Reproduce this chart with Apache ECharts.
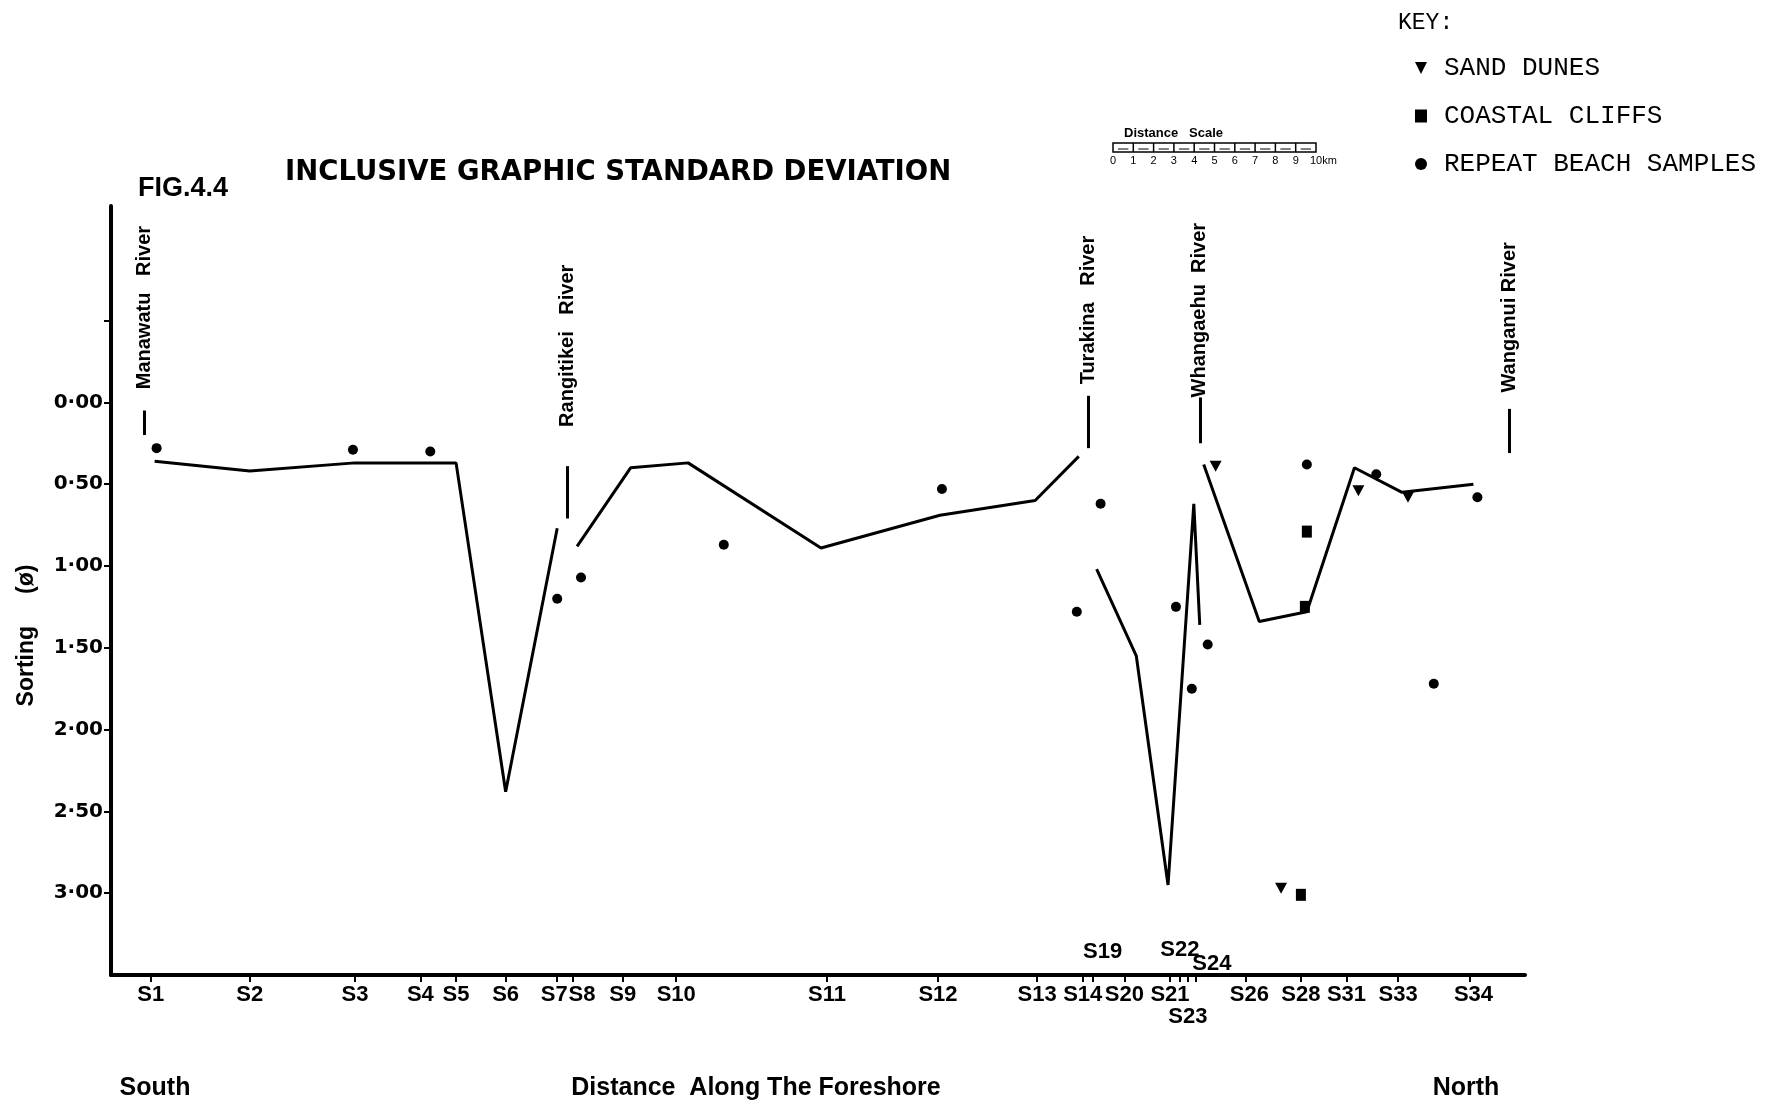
<!DOCTYPE html>
<html><head><meta charset="utf-8">
<script src="https://cdn.jsdelivr.net/npm/echarts@6/dist/echarts.min.js"></script>
<style>html,body{margin:0;padding:0;background:#fff}#c{width:1776px;height:1105px}</style>
</head><body><div id="c"></div>
<script>
// ---- data (x = distance along the foreshore, km from the south end; y = sorting in phi) ----
const stationNames = ['S1','S2','S3','S4','S5','S6','S7','S8','S9','S10','S11','S12','S13','S14','S19','S20','S21','S22','S23','S24','S26','S28','S31','S33','S34'];
const stationKm = [2.0,7.0,12.3,15.6,17.4,19.9,22.5,23.3,25.8,28.5,36.1,41.7,46.7,49.0,49.5,51.1,53.4,53.9,54.3,54.7,57.2,60.0,62.3,64.9,68.5];
const upperLabelStations = ['S19','S22','S24'];
const lowerRowStations = ['S23'];

// main profile line (null = break in the drawn line)
const profileKm      = [2.2, 7.0, 12.3, 15.6, 17.4, 19.9, 22.5, null, 23.5, 26.2, 29.1, 35.8, 41.8, 46.6, 48.8, null, 49.7, 51.7, 53.3, 54.6, 54.9, null, 55.1, 57.9, 60.3, 62.7, 65.1, 68.7];
const profileSorting = [0.36, 0.42, 0.37, 0.37, 0.37, 2.38, 0.77, null, 0.88, 0.40, 0.37, 0.89, 0.69, 0.60, 0.33, null, 1.02, 1.55, 2.95, 0.62, 1.36, null, 0.38, 1.34, 1.28, 0.40, 0.55, 0.50];

const beachKm      = [2.3, 12.2, 16.1, 22.5, 23.7, 30.9, 41.9, 48.7, 49.9, 53.7, 54.5, 55.3, 60.3, 63.8, 66.7, 68.9];
const beachSorting = [0.28, 0.29, 0.30, 1.20, 1.07, 0.87, 0.53, 1.28, 0.62, 1.25, 1.75, 1.48, 0.38, 0.44, 1.72, 0.58];

const duneKm      = [55.7, 62.9, 65.4, 59.0];
const duneSorting = [0.39, 0.54, 0.58, 2.97];

const cliffKm      = [60.3, 60.2, 60.0];
const cliffSorting = [0.79, 1.25, 3.01];

const riverNames      = ['Manawatu   River', 'Rangitikei   River', 'Turakina   River', 'Whangaehu  River', 'Wanganui River'];
const riverKm         = [1.7, 23.0, 49.3, 54.9, 70.5];
const riverMarkTop    = [0.05, 0.39, -0.04, -0.03, 0.04];
const riverMarkBottom = [0.20, 0.71, 0.28, 0.25, 0.31];
const riverLabelBase  = [-0.08, 0.15, -0.11, -0.03, -0.06];

const yTickValues  = [-0.5, 0, 0.5, 1.0, 1.5, 2.0, 2.5, 3.0];
const yLabelValues = [0, 0.5, 1.0, 1.5, 2.0, 2.5, 3.0];

// ---- build ----
const kmOf = n => stationKm[stationNames.indexOf(n)];
const bottomStations = stationNames.filter(n => upperLabelStations.indexOf(n) < 0);
const nameByKm = {};
stationNames.forEach((n, i) => { nameByKm[stationKm[i]] = n; });

function segments(xs, ys) {
  const out = []; let cur = [];
  xs.forEach((x, i) => {
    if (x === null || ys[i] === null) { if (cur.length) out.push(cur); cur = []; }
    else cur.push([x, ys[i]]);
  });
  if (cur.length) out.push(cur);
  return out;
}
const zip = (a, b) => a.map((v, i) => [v, b[i]]);

const narrow = "'Liberation Sans Narrow', 'Liberation Sans', Arial, sans-serif";
const mono = "'Liberation Mono', 'DejaVu Sans Mono', monospace";
const triPath = 'path://M0,0 L10,0 L5,10 Z';

const upperLabelStyle = {
  S19: { offset: [10, 0], distance: 12 },
  S22: { offset: [0, 0], distance: 14 },
  S24: { offset: [16, 0], distance: 0 }
};
// small horizontal nudges of crowded bottom labels (rich style keys)
const bottomLabelNudge = { S7: 'l', S8: 'r', S26: 'r2', S34: 'r2' };

const series = [];
segments(profileKm, profileSorting).forEach(seg => {
  series.push({ type: 'line', data: seg, symbol: 'none', silent: true, z: 2,
    lineStyle: { color: '#000', width: 3 }, animation: false });
});
series.push({
  name: 'SAND DUNES', type: 'scatter', data: zip(duneKm, duneSorting),
  symbol: triPath, symbolSize: [12, 11], itemStyle: { color: '#000', opacity: 1 }, z: 3
});
series.push({
  name: 'COASTAL CLIFFS', type: 'scatter', data: zip(cliffKm, cliffSorting),
  symbol: 'rect', symbolSize: [10, 12], itemStyle: { color: '#000', opacity: 1 }, z: 3
});
series.push({
  name: 'REPEAT BEACH SAMPLES', type: 'scatter', data: zip(beachKm, beachSorting),
  symbol: 'circle', symbolSize: 10, itemStyle: { color: '#000', opacity: 1 }, z: 3
});
// river markers and names
series.push({
  type: 'scatter', silent: true, symbolSize: 0, z: 4,
  itemStyle: { color: '#000', opacity: 1 },
  data: riverNames.map((n, i) => ({ name: n, value: [riverKm[i], riverLabelBase[i]] })),
  label: {
    show: true, formatter: p => p.name, position: [0, 0], rotate: 90,
    align: 'left', verticalAlign: 'middle', color: '#000',
    fontFamily: "'Liberation Sans', Arial, sans-serif", fontWeight: 'bold', fontSize: 20
  },
  markLine: {
    silent: true, symbol: ['none', 'none'], label: { show: false },
    lineStyle: { color: '#000', width: 3, type: 'solid', opacity: 1 },
    data: riverKm.map((x, i) => [{ coord: [x, riverMarkTop[i]] }, { coord: [x, riverMarkBottom[i]] }])
  }
});
// station names placed above the axis
series.push({
  type: 'scatter', silent: true, symbolSize: 0, z: 4,
  itemStyle: { color: '#000', opacity: 1 },
  data: upperLabelStations.map(n => ({
    name: n, value: [kmOf(n), 3.5],
    label: { offset: upperLabelStyle[n].offset, distance: upperLabelStyle[n].distance }
  })),
  label: {
    show: true, position: 'top', formatter: p => p.name, color: '#000',
    fontFamily: narrow, fontWeight: 'bold', fontSize: 22
  }
});

const labelFont = { color: '#000', fontFamily: narrow, fontWeight: 'bold', fontSize: 22, lineHeight: 22 };

const option = {
  animation: false,
  backgroundColor: '#fff',
  grid: { left: 111, right: 251, top: 206, bottom: 130, outerBoundsMode: 'none' },
  title: [
    { text: 'FIG.4.4', left: 133, top: 170, textStyle: { fontFamily: narrow, fontWeight: 'bold', fontSize: 27, color: '#000' } },
    { text: 'INCLUSIVE GRAPHIC STANDARD DEVIATION', left: 280, top: 154, textStyle: { fontFamily: "'DejaVu Sans', sans-serif", fontWeight: 'bold', fontSize: 27.5, color: '#000' } },
    { text: 'KEY:', left: 1393, top: 6, textStyle: { fontFamily: mono, fontWeight: 'normal', fontSize: 23, color: '#000' } },
    { text: 'South', left: 150, top: 1071, textAlign: 'center', textStyle: { fontFamily: narrow, fontWeight: 'bold', fontSize: 25, color: '#000' } },
    { text: 'Distance  Along The Foreshore', left: 751, top: 1071, textAlign: 'center', textStyle: { fontFamily: narrow, fontWeight: 'bold', fontSize: 25, color: '#000' } },
    { text: 'North', left: 1461, top: 1071, textAlign: 'center', textStyle: { fontFamily: narrow, fontWeight: 'bold', fontSize: 25, color: '#000' } }
  ],
  legend: {
    orient: 'vertical', left: 1410, top: 50, itemGap: 22, itemWidth: 12, itemHeight: 13,
    selectedMode: false,
    textStyle: { fontFamily: mono, fontSize: 26, color: '#000', padding: [0, 0, 0, 12] },
    data: [
      { name: 'SAND DUNES', icon: triPath },
      { name: 'COASTAL CLIFFS', icon: 'rect' },
      { name: 'REPEAT BEACH SAMPLES', icon: 'circle' }
    ]
  },
  xAxis: {
    type: 'value', min: 0, max: 71.3,
    splitLine: { show: false },
    axisLine: { onZero: false, lineStyle: { color: '#000', width: 4 } },
    axisTick: { customValues: stationKm, length: 7, lineStyle: { color: '#000', width: 2 } },
    axisLabel: Object.assign({
      customValues: bottomStations.map(kmOf), margin: 9,
      formatter: v => {
        const n = nameByKm[v];
        if (lowerRowStations.indexOf(n) >= 0) return '\n' + n;
        if (bottomLabelNudge[n]) return '{' + bottomLabelNudge[n] + '|' + n + '}';
        return n;
      },
      rich: {
        l: Object.assign({ padding: [0, 6, 0, 0] }, labelFont),
        r: Object.assign({ padding: [0, 0, 0, 18] }, labelFont),
        r2: Object.assign({ padding: [0, 0, 0, 8] }, labelFont)
      }
    }, labelFont)
  },
  yAxis: {
    type: 'value', inverse: true, min: -1.2, max: 3.5,
    name: 'Sorting     (ø)', nameLocation: 'middle', nameGap: 73, nameRotate: 90,
    nameTextStyle: { fontFamily: "'Liberation Sans', Arial, sans-serif", fontWeight: 'bold', fontSize: 23, color: '#000', padding: [0, 90, 0, 0] },
    splitLine: { show: false },
    axisLine: { onZero: false, lineStyle: { color: '#000', width: 4 } },
    axisTick: { customValues: yTickValues, length: 7, lineStyle: { color: '#000', width: 2 } },
    axisLabel: {
      customValues: yLabelValues, margin: 8,
      formatter: v => v.toFixed(2).replace('.', '·'),
      color: '#000', fontFamily: "'DejaVu Sans', sans-serif", fontWeight: 'bold', fontSize: 20
    }
  },
  graphic: (function () {
    const g = [];
    const x0 = 1113, y0 = 143, w = 203, h = 9, cell = w / 10;
    g.push({ type: 'text', left: 1124, top: 127, style: { text: 'Distance   Scale', font: "bold 13px 'Liberation Sans Narrow', 'Liberation Sans', sans-serif", fill: '#000' } });
    g.push({ type: 'rect', shape: { x: x0, y: y0, width: w, height: h }, style: { fill: 'none', stroke: '#000', lineWidth: 1.5 } });
    for (let i = 1; i < 10; i++) {
      g.push({ type: 'line', shape: { x1: x0 + i * cell, y1: y0, x2: x0 + i * cell, y2: y0 + h }, style: { stroke: '#000', lineWidth: 1.5 } });
    }
    for (let i = 0; i < 10; i++) {
      g.push({ type: 'line', shape: { x1: x0 + i * cell + 5, y1: y0 + h - 3, x2: x0 + i * cell + cell - 5, y2: y0 + h - 3 }, style: { stroke: '#000', lineWidth: 1 } });
      g.push({ type: 'text', x: x0 + i * cell, y: y0 + h + 3, style: { text: String(i), font: "11px 'Liberation Sans Narrow', 'Liberation Sans', sans-serif", fill: '#000', align: 'center' } });
    }
    g.push({ type: 'text', x: x0 + w - 6, y: y0 + h + 3, style: { text: '10km', font: "11px 'Liberation Sans Narrow', 'Liberation Sans', sans-serif", fill: '#000', align: 'left' } });
    return g;
  })(),
  series: series
};

const chart = echarts.init(document.getElementById('c'), null, { renderer: 'canvas' });
chart.setOption(option);
</script>
</body></html>
